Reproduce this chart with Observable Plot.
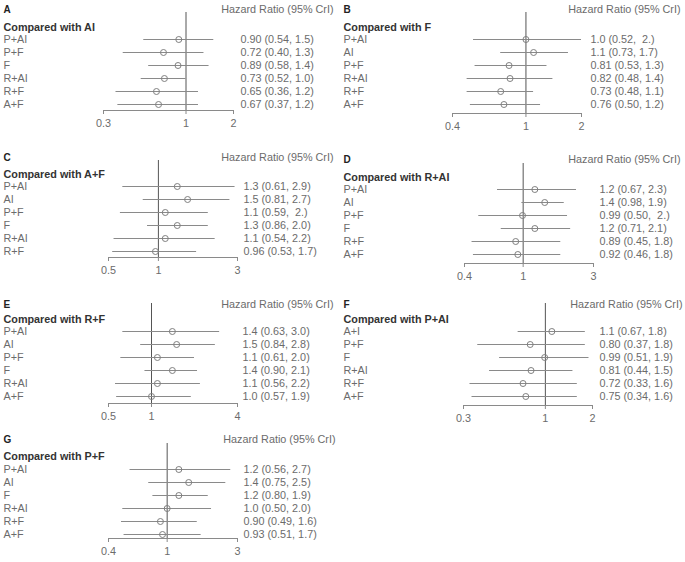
<!DOCTYPE html>
<html>
<head>
<meta charset="utf-8">
<script src="https://cdn.jsdelivr.net/npm/d3@7"></script>
<script src="https://cdn.jsdelivr.net/npm/@observablehq/plot@0.6"></script>
<style>
  body { margin: 0; background: #fff; }
  #wrap { position: relative; width: 685px; height: 562px; background: #fff; font-family: "Liberation Sans", Arial, sans-serif; }
  .panel { position: absolute; }
  .panel svg { overflow: visible; }
</style>
</head>
<body>
<div id="wrap"></div>
<script>
// ---------- DATA ----------
const panelLetters = ["A", "B", "C", "D", "E", "F", "G"];
const comparators = ["AI", "F", "A+F", "R+AI", "R+F", "P+AI", "P+F"];

const rowsA = ["P+AI", "P+F", "F", "R+AI", "R+F", "A+F"];
const estA = [0.90, 0.72, 0.89, 0.73, 0.65, 0.67];
const loA  = [0.54, 0.40, 0.58, 0.52, 0.36, 0.37];
const hiA  = [1.5, 1.3, 1.4, 1.0, 1.2, 1.2];
const labA = ["0.90 (0.54, 1.5)", "0.72 (0.40, 1.3)", "0.89 (0.58, 1.4)", "0.73 (0.52, 1.0)", "0.65 (0.36, 1.2)", "0.67 (0.37, 1.2)"];
const ticksA = [0.3, 1, 2];

const rowsB = ["P+AI", "AI", "P+F", "R+AI", "R+F", "A+F"];
const estB = [1.0, 1.1, 0.81, 0.82, 0.73, 0.76];
const loB  = [0.52, 0.73, 0.53, 0.48, 0.48, 0.50];
const hiB  = [2.0, 1.7, 1.3, 1.4, 1.1, 1.2];
const labB = ["1.0 (0.52,\u00a0 2.)", "1.1 (0.73, 1.7)", "0.81 (0.53, 1.3)", "0.82 (0.48, 1.4)", "0.73 (0.48, 1.1)", "0.76 (0.50, 1.2)"];
const ticksB = [0.4, 1, 2];

const rowsC = ["P+AI", "AI", "P+F", "F", "R+AI", "R+F"];
const estC = [1.3, 1.5, 1.1, 1.3, 1.1, 0.96];
const loC  = [0.61, 0.81, 0.59, 0.86, 0.54, 0.53];
const hiC  = [2.9, 2.7, 2.0, 2.0, 2.2, 1.7];
const labC = ["1.3 (0.61, 2.9)", "1.5 (0.81, 2.7)", "1.1 (0.59,\u00a0 2.)", "1.3 (0.86, 2.0)", "1.1 (0.54, 2.2)", "0.96 (0.53, 1.7)"];
const ticksC = [0.5, 1, 3];

const rowsD = ["P+AI", "AI", "P+F", "F", "R+F", "A+F"];
const estD = [1.2, 1.4, 0.99, 1.2, 0.89, 0.92];
const loD  = [0.67, 0.98, 0.50, 0.71, 0.45, 0.46];
const hiD  = [2.3, 1.9, 2.0, 2.1, 1.8, 1.8];
const labD = ["1.2 (0.67, 2.3)", "1.4 (0.98, 1.9)", "0.99 (0.50,\u00a0 2.)", "1.2 (0.71, 2.1)", "0.89 (0.45, 1.8)", "0.92 (0.46, 1.8)"];
const ticksD = [0.4, 1, 3];

const rowsE = ["P+AI", "AI", "P+F", "F", "R+AI", "A+F"];
const estE = [1.4, 1.5, 1.1, 1.4, 1.1, 1.0];
const loE  = [0.63, 0.84, 0.61, 0.90, 0.56, 0.57];
const hiE  = [3.0, 2.8, 2.0, 2.1, 2.2, 1.9];
const labE = ["1.4 (0.63, 3.0)", "1.5 (0.84, 2.8)", "1.1 (0.61, 2.0)", "1.4 (0.90, 2.1)", "1.1 (0.56, 2.2)", "1.0 (0.57, 1.9)"];
const ticksE = [0.5, 1, 4];

const rowsF = ["A+I", "P+F", "F", "R+AI", "R+F", "A+F"];
const estF = [1.1, 0.80, 0.99, 0.81, 0.72, 0.75];
const loF  = [0.67, 0.37, 0.51, 0.44, 0.33, 0.34];
const hiF  = [1.8, 1.8, 1.9, 1.5, 1.6, 1.6];
const labF = ["1.1 (0.67, 1.8)", "0.80 (0.37, 1.8)", "0.99 (0.51, 1.9)", "0.81 (0.44, 1.5)", "0.72 (0.33, 1.6)", "0.75 (0.34, 1.6)"];
const ticksF = [0.3, 1, 2];

const rowsG = ["P+AI", "AI", "F", "R+AI", "R+F", "A+F"];
const estG = [1.2, 1.4, 1.2, 1.0, 0.90, 0.93];
const loG  = [0.56, 0.75, 0.80, 0.50, 0.49, 0.51];
const hiG  = [2.7, 2.5, 1.9, 2.0, 1.6, 1.7];
const labG = ["1.2 (0.56, 2.7)", "1.4 (0.75, 2.5)", "1.2 (0.80, 1.9)", "1.0 (0.50, 2.0)", "0.90 (0.49, 1.6)", "0.93 (0.51, 1.7)"];
const ticksG = [0.4, 1, 3];

const headerText = "Hazard Ratio (95% CrI)";

// ---------- LAYOUT (pixels, per panel) ----------
const layouts = [
  {left: 0,   top: 0,   W: 340, H: 135, x0: 103, x1: 233, refTop: 12, axisY: 110, r0: 38, r1: 104, titleY: 5,  compY: 23, valX: 240, hrEnd: 333},
  {left: 340, top: 0,   W: 345, H: 135, x0: 112, x1: 241, refTop: 12, axisY: 113, r0: 39, r1: 104, titleY: 5,  compY: 23, valX: 250, hrEnd: 340},
  {left: 0,   top: 140, W: 340, H: 150, x0: 108, x1: 237, refTop: 20, axisY: 117, r0: 46, r1: 111, titleY: 13, compY: 30, valX: 243, hrEnd: 333},
  {left: 340, top: 140, W: 345, H: 150, x0: 124, x1: 253, refTop: 23, axisY: 123, r0: 49, r1: 114, titleY: 15, compY: 33, valX: 259, hrEnd: 340},
  {left: 0,   top: 290, W: 340, H: 130, x0: 108, x1: 237, refTop: 13, axisY: 113, r0: 40, r1: 106, titleY: 10, compY: 25, valX: 242, hrEnd: 333},
  {left: 340, top: 290, W: 345, H: 130, x0: 123, x1: 252, refTop: 13, axisY: 115, r0: 40, r1: 106, titleY: 10, compY: 25, valX: 259, hrEnd: 342},
  {left: 0,   top: 420, W: 340, H: 142, x0: 108, x1: 237, refTop: 23, axisY: 118, r0: 49, r1: 114, titleY: 15, compY: 32, valX: 243, hrEnd: 335}
];

const panelData = [
  [rowsA, estA, loA, hiA, labA, ticksA],
  [rowsB, estB, loB, hiB, labB, ticksB],
  [rowsC, estC, loC, hiC, labC, ticksC],
  [rowsD, estD, loD, hiD, labD, ticksD],
  [rowsE, estE, loE, hiE, labE, ticksE],
  [rowsF, estF, loF, hiF, labF, ticksF],
  [rowsG, estG, loG, hiG, labG, ticksG]
];

const FONT = "'Liberation Sans', Arial, sans-serif";
const FS = 10.8;
const TXT = "#6b6b6b";
const LINE = "#8a8a8a";
const wrap = document.getElementById("wrap");

panelData.forEach(([rows, est, lo, hi, lab, ticks], i) => {
  const L = layouts[i];
  const data = rows.map((r, j) => ({row: r, est: est[j], lo: lo[j], hi: hi[j], label: lab[j]}));
  const mL = L.x0, mR = L.W - L.x1, mT = L.refTop, mB = L.H - L.axisY;
  const chart = Plot.plot({
    width: L.W,
    height: L.H,
    marginLeft: mL,
    marginRight: mR,
    marginTop: mT,
    marginBottom: mB,
    style: {fontFamily: FONT, fontSize: FS + "px", background: "white", overflow: "visible"},
    x: {type: "log", domain: [ticks[0], ticks[ticks.length - 1]], axis: null},
    y: {type: "point", domain: rows, range: [L.r0, L.r1], padding: 0, axis: null},
    marks: [
      Plot.ruleX([1], {stroke: "#555", strokeWidth: 1}),
      Plot.frame({anchor: "bottom", stroke: LINE}),
      Plot.axisX({ticks: ticks, tickFormat: d => String(d), tickSize: 4, tickPadding: 5, stroke: LINE, fill: TXT, fontSize: FS}),
      Plot.ruleY(data, {y: "row", x1: "lo", x2: "hi", stroke: LINE, strokeWidth: 1}),
      Plot.dot(data, {x: "est", y: "row", r: 3, stroke: "#808080", fill: "none", strokeWidth: 1}),
      Plot.text(data, {y: "row", text: "row", frameAnchor: "left", textAnchor: "start", dx: 3 - mL, fill: TXT, fontSize: FS}),
      Plot.text(data, {y: "row", text: "label", frameAnchor: "right", textAnchor: "start", dx: L.valX - L.x1, fill: TXT, fontSize: FS}),
      Plot.text([panelLetters[i]], {frameAnchor: "top-left", textAnchor: "start", dx: 3 - mL, dy: L.titleY - mT, fill: "#222", fontWeight: "bold", fontSize: 10}),
      Plot.text(["Compared with " + comparators[i]], {frameAnchor: "top-left", textAnchor: "start", dx: 3 - mL, dy: L.compY - mT, fill: "#333", fontWeight: "bold", fontSize: FS}),
      Plot.text([headerText], {frameAnchor: "top-right", textAnchor: "end", dx: L.hrEnd - L.x1, dy: L.titleY - mT, fill: TXT, fontSize: FS})
    ]
  });
  const div = document.createElement("div");
  div.className = "panel";
  div.style.left = L.left + "px";
  div.style.top = L.top + "px";
  div.appendChild(chart);
  wrap.appendChild(div);
});
</script>
</body>
</html>
